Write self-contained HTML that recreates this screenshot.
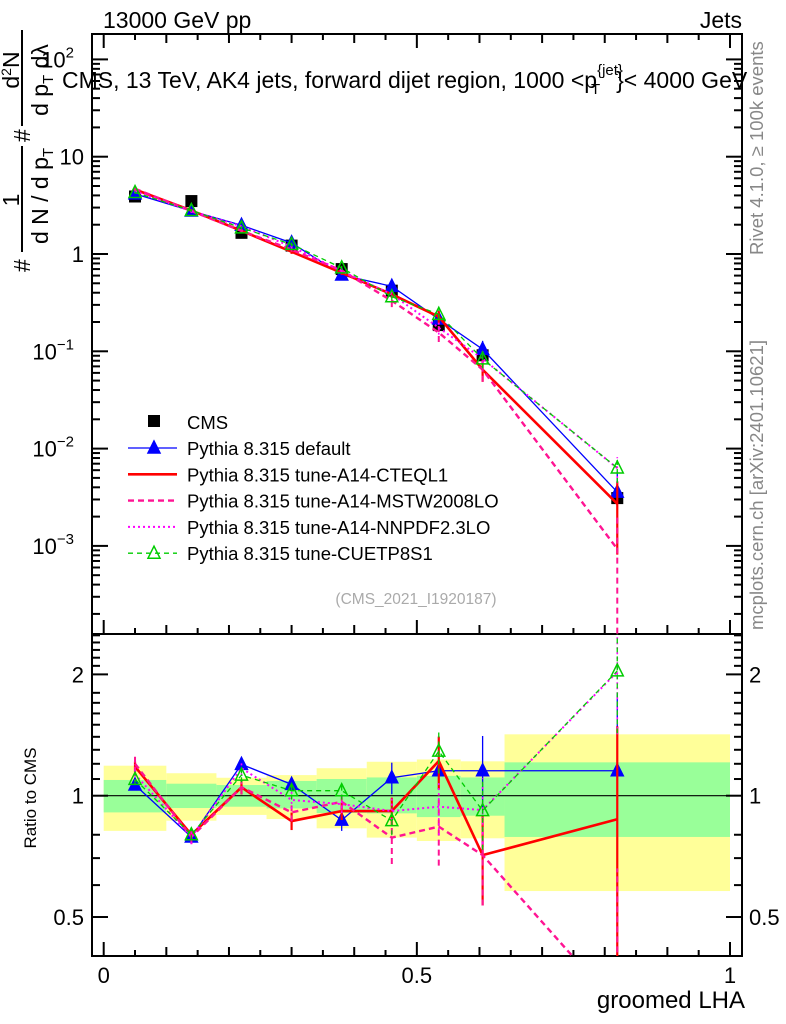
<!DOCTYPE html>
<html><head><meta charset="utf-8"><style>
html,body{margin:0;background:#fff;overflow:hidden;width:786px;height:1024px}
svg{display:block;font-family:"Liberation Sans",sans-serif}
</style></head><body>
<svg id="c" width="786" height="1024" viewBox="0 0 786 1024" xmlns="http://www.w3.org/2000/svg">
<defs>
<clipPath id="cm"><rect x="92" y="34" width="650" height="600"/></clipPath>
<clipPath id="cr"><rect x="92" y="634" width="650" height="322"/></clipPath>
</defs>
<text x="103" y="28" font-size="23">13000 GeV pp</text>
<text x="742" y="28" font-size="23" text-anchor="end">Jets</text>
<g id="ylab" font-size="23">
<text transform="translate(30,272) rotate(-90)">#</text>
<text transform="translate(19,200) rotate(-90)" text-anchor="middle">1</text>
<line x1="22" y1="146" x2="22" y2="252" stroke="#000" stroke-width="2"/>
<text transform="translate(48,196) rotate(-90)" text-anchor="middle">d N / d p<tspan font-size="15" dy="5">T</tspan></text>
<text transform="translate(30,142) rotate(-90)">#</text>
<text transform="translate(19,70) rotate(-90)" text-anchor="middle">d<tspan font-size="14" dy="-8">2</tspan><tspan dy="8">N</tspan></text>
<line x1="22" y1="30" x2="22" y2="126" stroke="#000" stroke-width="2"/>
<text transform="translate(48,80) rotate(-90)" text-anchor="middle">d p<tspan font-size="15" dy="5">T</tspan><tspan dy="-5"> dλ</tspan></text>
</g>
<text transform="translate(36,798) rotate(-90)" text-anchor="middle" font-size="17">Ratio to CMS</text>
<text x="745" y="1008" font-size="24" text-anchor="end">groomed LHA</text>
<text transform="translate(763,255) rotate(-90)" font-size="18.5" fill="#888">Rivet 4.1.0, ≥ 100k events</text>
<text transform="translate(763,630) rotate(-90)" font-size="18.5" fill="#888">mcplots.cern.ch [arXiv:2401.10621]</text>
<text x="416" y="604" font-size="15.5" fill="#aaa" text-anchor="middle">(CMS_2021_I1920187)</text>
<g id="bands" clip-path="url(#cr)"></g>
<g id="axes"></g>
<g id="mainG" clip-path="url(#cm)"></g>
<g id="ratG" clip-path="url(#cr)"></g>
<text x="62" y="88" font-size="23">CMS, 13 TeV, AK4 jets, forward dijet region, 1000 &lt;p<tspan font-size="15" dy="-13">{jet}</tspan><tspan font-size="15" dx="-32" dy="19">T</tspan><tspan dx="16" dy="-6">}&lt; 4000 GeV</tspan></text>
<g id="legend"></g>
</svg>
<script>
const xCenters=[0.05,0.14,0.22,0.30,0.38,0.46,0.535,0.605,0.82];
const binEdges=[0,0.1,0.18,0.26,0.34,0.42,0.5,0.57,0.64,1.0];
const cmsValues=[3.9,3.5,1.65,1.22,0.70,0.42,0.186,0.091,0.0031];
const bandYellowHi=[1.187,1.137,1.108,1.125,1.17,1.214,1.23,1.217,1.42];
const bandYellowLo=[0.818,0.867,0.896,0.875,0.83,0.787,0.772,0.784,0.58];
const bandGreenHi=[1.094,1.071,1.063,1.088,1.10,1.11,1.12,1.11,1.21];
const bandGreenLo=[0.909,0.932,0.939,0.93,0.906,0.904,0.885,0.892,0.79];
const ratioDefault=[1.063,0.79,1.196,1.067,0.87,1.108,1.153,1.153,1.153];
const ratioCTEQL1=[1.18,0.80,1.049,0.865,0.916,0.916,1.219,0.712,0.874];
const ratioMSTW=[1.2,0.79,1.05,0.909,0.966,0.787,0.838,0.712,0.30];
const ratioNNPDF=[1.13,0.79,1.17,0.976,0.953,0.916,0.939,0.921,2.03];
const ratioCUETP8S1=[1.098,0.80,1.125,1.029,1.029,0.867,1.29,0.918,2.04];
const errDefault=[0.02,0.02,0.03,0.04,0.06,0.09,0.1,0.22,0.55];
const errCTEQL1=[0.03,0.03,0.04,0.05,0.05,0.08,0.15,0.25,0.7];
const errMSTW=[0.05,0.04,0.04,0.05,0.05,0.14,0.2,0.25,1.2];
const errNNPDF=[0.04,0.04,0.04,0.05,0.05,0.08,0.15,0.2,0.3];
const errCUETP8S1=[0.03,0.03,0.04,0.05,0.05,0.08,0.12,0.2,0.3];

const NS="http://www.w3.org/2000/svg";
const X=v=>103.7+v*626.3;
const YM=v=>254-97.3*Math.log10(v);
const YR=r=>795.7-403*Math.log10(r);
function mk(tag,attrs,parent){const e=document.createElementNS(NS,tag);for(const k in attrs)e.setAttribute(k,attrs[k]);parent.appendChild(e);return e;}
const axes=document.getElementById('axes'),bands=document.getElementById('bands'),mainG=document.getElementById('mainG'),ratG=document.getElementById('ratG'),legend=document.getElementById('legend');

for(let i=0;i<cmsValues.length;i++){
  const x0=X(binEdges[i]),x1=X(binEdges[i+1]);
  const y=mk('rect',{x:x0,y:YR(bandYellowHi[i]),width:x1-x0,height:YR(bandYellowLo[i])-YR(bandYellowHi[i]),fill:'#ffff99'},bands);
  
  
  const g=mk('rect',{x:x0,y:YR(bandGreenHi[i]),width:x1-x0,height:YR(bandGreenLo[i])-YR(bandGreenHi[i]),fill:'#99ff99'},bands);
  
  
}
const one=mk('line',{x1:92,x2:742,y1:YR(1),y2:YR(1),stroke:'#000','stroke-width':1.2},axes);



const f1=mk('rect',{x:92,y:34,width:650,height:600,fill:'none',stroke:'#000','stroke-width':2},axes);


const f2=mk('rect',{x:92,y:634,width:650,height:322,fill:'none',stroke:'#000','stroke-width':2},axes);



for(let k=0;k<=20;k++){
  const v=k*0.05,x=X(v);
  const L=(k%10===0)?14:(k%2===0?9:6);
  [[956,-1],[634,-1],[34,1]].forEach(([yb,d])=>{
    const t=mk('line',{x1:x,x2:x,y1:yb,y2:yb+d*L,stroke:'#000','stroke-width':2},axes);
    
    
  });
}
[['0',0],['0.5',0.5],['1',1]].forEach(([s,v])=>{
  const t=mk('text',{x:X(v),y:983,'font-size':22,'text-anchor':'middle'},axes);t.textContent=s;
  
  
});
for(let e=-4;e<=2;e++){
  for(let m=1;m<10;m++){
    const v=m*Math.pow(10,e),y=YM(v);
    if(y<35||y>633)continue;
    const L=m===1?16:8;
    [[92,1],[742,-1]].forEach(([xb,d])=>{
      const t=mk('line',{x1:xb,x2:xb+d*L,y1:y,y2:y,stroke:'#000','stroke-width':2},axes);
      
      
    });
  }
}
const ylabs=[[2,'10','2'],[1,'10',''],[0,'1',''],[-1,'10','−1'],[-2,'10','−2'],[-3,'10','−3']];
ylabs.forEach(([e,b,s])=>{
  const t=mk('text',{x:s?74:84,y:YM(Math.pow(10,e))+8,'font-size':22,'text-anchor':'end'},axes);
  t.textContent=b;
  
  
  if(s){const u=mk('tspan',{'font-size':15,dy:-10},t);u.textContent=s;}
});
const rMinor=[0.6,0.7,0.8,1.1,1.2,1.3,1.4,1.5,1.6,1.7,1.8,2.1,2.2,2.3,2.4,2.5];
const rMajor=[0.5,1,2];
rMinor.concat(rMajor).forEach(r=>{
  const y=YR(r),L=rMajor.includes(r)?16:8;
  [[92,1],[742,-1]].forEach(([xb,d])=>{
    const t=mk('line',{x1:xb,x2:xb+d*L,y1:y,y2:y,stroke:'#000','stroke-width':2},axes);
    
    
  });
});
rMajor.forEach(r=>{
  const s=String(r);
  const a=mk('text',{x:84,y:YR(r)+8,'font-size':22,'text-anchor':'end'},axes);a.textContent=s;
  
  
  const b=mk('text',{x:749,y:YR(r)+8,'font-size':22},axes);b.textContent=s;
  
  
});

const series=[
 {name:'default',ratio:ratioDefault,err:errDefault,color:'#0000ff',w:1.3,dash:'',marker:'tri'},
 {name:'cteql1',ratio:ratioCTEQL1,err:errCTEQL1,color:'#ff0000',w:2.6,dash:'',marker:''},
 {name:'mstw',ratio:ratioMSTW,err:errMSTW,color:'#ff1493',w:2.4,dash:'6,4',marker:''},
 {name:'nnpdf',ratio:ratioNNPDF,err:errNNPDF,color:'#ff00ff',w:2,dash:'2,3',marker:''},
 {name:'cuetp8s1',ratio:ratioCUETP8S1,err:errCUETP8S1,color:'#00cc00',w:1.3,dash:'5,4',marker:'otri'}
];
function tri(g,x,y,col,open){
  return mk('polygon',{points:`${x},${y-7} ${x-6},${y+5} ${x+6},${y+5}`,fill:open?'none':col,stroke:col,'stroke-width':1.5},g);
}
function drawSeries(g,s,val,Y,isMain){
  const pts=xCenters.map((x,i)=>[X(x),Y(val[i])]);
  const pl=mk('polyline',{points:pts.map(p=>p.join(',')).join(' '),fill:'none',stroke:s.color,'stroke-width':s.w,'stroke-dasharray':s.dash},g);
  
  
  xCenters.forEach((x,i)=>{
    const v=val[i],e=s.err[i];
    const lo=Math.max(v*(1-e),v*0.01),hi=v*(1+e);
    const eb=mk('line',{x1:X(x),x2:X(x),y1:Y(lo),y2:Y(hi),stroke:s.color,'stroke-width':Math.max(1.3,s.w-0.4),'stroke-dasharray':s.dash},g);
    
    
    if(s.marker){
      const m=tri(g,X(x),Y(v),s.color,s.marker==='otri');
      
      
    }
  });
}
xCenters.forEach((x,i)=>{
  const r=mk('rect',{x:X(x)-6,y:YM(cmsValues[i])-6,width:12,height:12,fill:'#000'},mainG);
  
  
});
series.forEach(s=>{
  const mc=s.ratio.map((r,i)=>r*cmsValues[i]);
  drawSeries(mainG,s,mc,YM,true);
});
series.forEach(s=>drawSeries(ratG,s,s.ratio,YR,false));

const legNames=['Pythia 8.315 default','Pythia 8.315 tune-A14-CTEQL1','Pythia 8.315 tune-A14-MSTW2008LO','Pythia 8.315 tune-A14-NNPDF2.3LO','Pythia 8.315 tune-CUETP8S1'];
const lc=mk('rect',{x:148,y:415,width:12,height:12,fill:'#000'},legend);


const lt=mk('text',{x:187,y:429,'font-size':18.5},legend);lt.textContent='CMS';


series.forEach((s,i)=>{
  const y=448+i*26.3;
  const l=mk('line',{x1:128,x2:177,y1:y,y2:y,stroke:s.color,'stroke-width':s.w,'stroke-dasharray':s.dash},legend);
  
  
  if(s.marker){const m=tri(legend,154,y,s.color,s.marker==='otri');}
  const t=mk('text',{x:187,y:y+7,'font-size':18.5},legend);t.textContent=legNames[i];
  
  
});
</script>
</body></html>
